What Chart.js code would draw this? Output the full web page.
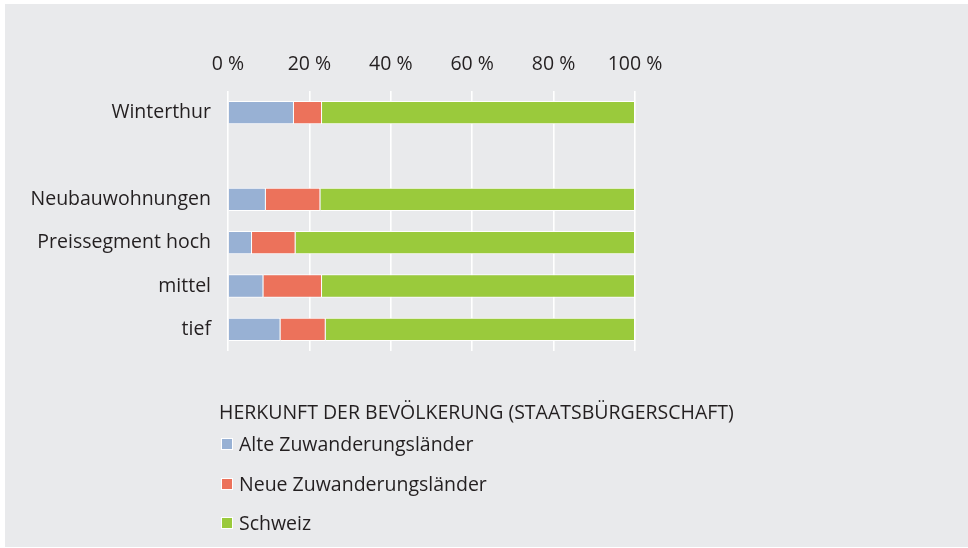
<!DOCTYPE html>
<html lang="de">
<head>
<meta charset="utf-8">
<script src="https://cdn.jsdelivr.net/npm/chart.js@4"></script>
<style>
    html, body { margin: 0; padding: 0; background: #fff; }
    body { width: 968px; height: 548px; position: relative; overflow: hidden; font-family: "Open Sans", sans-serif; }
    #panel { position: absolute; left: 5px; top: 4px; right: 0; bottom: 1px; background: #e9eaec; }
    #wrap { position: absolute; left: 0; top: 0; width: 968px; height: 548px; }
    #legende { position: absolute; left: 219px; top: 400px; color: #231f20; font-size: 19.5px; }
    #legende .titel { height: 24px; line-height: 24px; margin-bottom: 8px; white-space: nowrap; }
    #legende .item { display: flex; align-items: center; height: 24px; line-height: 24px; margin-bottom: 15.5px; white-space: nowrap; }
    #legende .box { width: 12px; height: 12px; margin: 0 6px 0 2px; box-sizing: border-box; border: 1px solid #fff; }
</style>
</head>
<body>
<div id="panel"></div>
<div id="wrap"><canvas id="grafico" width="968" height="548"></canvas></div>
<div id="legende"></div>
<script>
const kategorien = ["Winterthur", "", "Neubauwohnungen", "Preissegment hoch", "mittel", "tief"];
const alteLaender = [16.2, null, 9.3, 5.9, 8.7, 12.9];
const neueLaender = [6.9, null, 13.4, 10.7, 14.4, 11.1];
const schweiz = [76.9, null, 77.3, 83.4, 76.9, 76.0];
const ticksX = [0, 20, 40, 60, 80, 100];
const legendeTitel = "HERKUNFT DER BEVÖLKERUNG (STAATSBÜRGERSCHAFT)";

const schrift = { family: "'Open Sans', sans-serif", size: 19.5 };
const textFarbe = "#231f20";

const ctx = document.getElementById("grafico");

const grafico = new Chart(ctx, {
    type: "bar",
    data: {
        labels: kategorien,
        datasets: [
            { label: "Alte Zuwanderungsländer", data: alteLaender, backgroundColor: "#98b1d4" },
            { label: "Neue Zuwanderungsländer", data: neueLaender, backgroundColor: "#ec725b" },
            { label: "Schweiz", data: schweiz, backgroundColor: "#9aca3c" }
        ].map(ds => ({ ...ds, borderColor: "#ffffff", borderWidth: 1, categoryPercentage: 1, barPercentage: 0.54 }))
    },
    options: {
        indexAxis: "y",
        responsive: false,
        animation: false,
        layout: { padding: { left: 0, right: 333, top: 40, bottom: 197 } },
        plugins: {
            legend: { display: false },
            tooltip: { enabled: false }
        },
        scales: {
            x: {
                stacked: true,
                position: "top",
                min: 0,
                max: 100,
                afterBuildTicks: s => { s.ticks = ticksX.map(v => ({ value: v })); },
                afterFit: s => { s.height = 51; },
                border: { display: false },
                grid: { color: "#ffffff", lineWidth: 1.6, drawTicks: false },
                ticks: {
                    padding: 15,
                    color: textFarbe,
                    font: schrift,
                    callback: v => v + " %"
                }
            },
            y: {
                stacked: true,
                afterFit: s => { s.width = 228; },
                border: { display: false },
                grid: { display: false },
                ticks: { padding: 9, color: textFarbe, font: schrift }
            }
        }
    }
});

// Legende unter dem Diagramm, senkrecht wie im Original
const legende = document.getElementById("legende");
legende.innerHTML = `<div class="titel">${legendeTitel}</div>`;
grafico.data.datasets.forEach(ds => {
    legende.innerHTML += `
        <div class="item">
            <span class="box" style="background:${ds.backgroundColor}"></span>
            <span>${ds.label}</span>
        </div>
    `;
});
</script>
</body>
</html>
